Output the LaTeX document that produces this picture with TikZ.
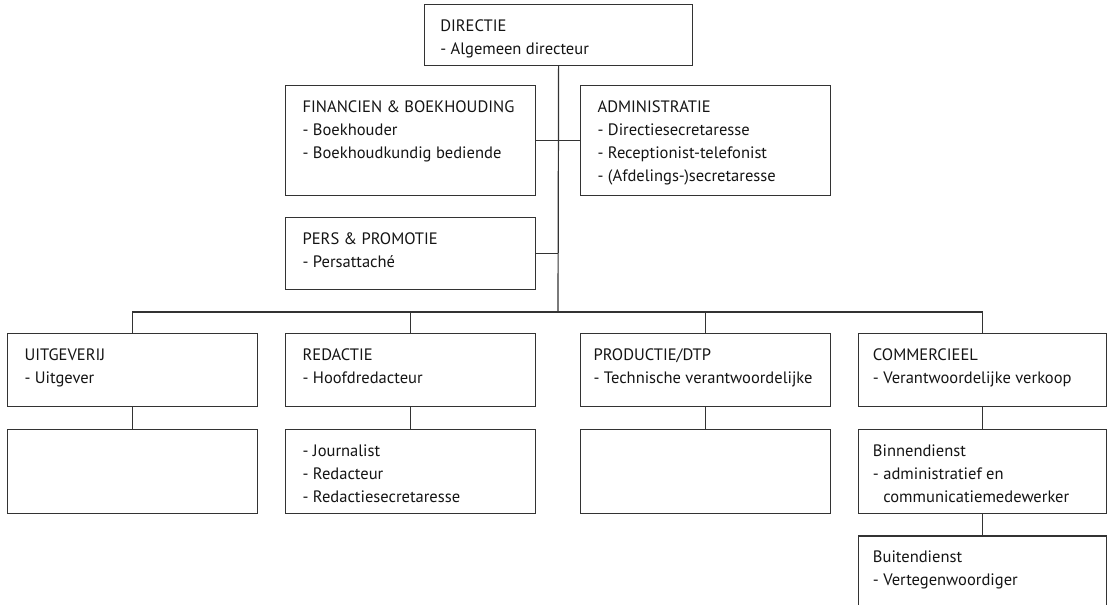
\documentclass[tikz,border=0pt]{standalone}
\usepackage{fontspec}
\setmainfont{PT Sans}
\usetikzlibrary{positioning}
\tikzset{
  unit/.style={draw=black!80, line width=0.9pt, rectangle, anchor=north west,
    minimum width=187.5pt, inner sep=0pt},
  unittext/.style={anchor=north west, align=left, inner sep=0pt, text=black!92,
    font=\fontsize{12.4}{17.25}\selectfont},
  link/.style={draw=black!80, line width=0.9pt},
  node distance=16.5pt
}

\begin{document}
\begin{tikzpicture}[x=0.75pt, y=-0.75pt]
\useasboundingbox (0,0) rectangle (1107,605);
\clip (0,0) rectangle (1107,605);

% directie en staf
\node[unit, minimum width=201pt, minimum height=45.75pt] (dir) at (424,4) {};
\node[unit, minimum height=82.5pt] (fin) at (285,85) {};
\node[unit, minimum height=82.5pt] (adm) at (580,85) {};
\node[unit, minimum height=54pt] (pers) at (285,217) {};
\coordinate (bus) at (558,312);

% afdelingen
\node[unit, minimum height=54.75pt] (uitg) at (7,333) {};
\node[unit, minimum height=54.75pt] (red) at (285,333) {};
\node[unit, minimum height=54.75pt] (prod) at (580,333) {};
\node[unit, minimum width=186pt, minimum height=54.75pt] (comm) at (858,333) {};
\node[unit, minimum height=63pt, below=of uitg] (uitg2) {};
\node[unit, minimum height=63pt, below=of red] (red2) {};
\node[unit, minimum height=63pt, below=of prod] (prod2) {};
\node[unit, minimum width=186pt, minimum height=63pt, below=of comm] (binnen) {};
\node[unit, minimum width=186pt, minimum height=55pt, below=15.75pt of binnen] (buiten) {};

% teksten
\node[unittext] (dir-t) at ([shift={(12pt,-11.5pt)}]dir.north west) {DIRECTIE\\- Algemeen directeur};
\node[unittext] (fin-t) at ([shift={(13pt,-11.5pt)}]fin.north west) {FINANCIEN \& BOEKHOUDING\\- Boekhouder\\- Boekhoudkundig bediende};
\node[unittext] (adm-t) at ([shift={(13pt,-11.5pt)}]adm.north west) {ADMINISTRATIE\\- Directiesecretaresse\\- Receptionist-telefonist\\- (Afdelings-)secretaresse};
\node[unittext] (pers-t) at ([shift={(13pt,-11.5pt)}]pers.north west) {PERS \& PROMOTIE\\- Persattach\'e};
\node[unittext] (uitg-t) at ([shift={(13pt,-11.5pt)}]uitg.north west) {UITGEVERIJ\\- Uitgever};
\node[unittext] (red-t) at ([shift={(13pt,-11.5pt)}]red.north west) {REDACTIE\\- Hoofdredacteur};
\node[unittext] (prod-t) at ([shift={(10pt,-11.5pt)}]prod.north west) {PRODUCTIE/DTP\\- Technische verantwoordelijke};
\node[unittext] (comm-t) at ([shift={(11pt,-11.5pt)}]comm.north west) {COMMERCIEEL\\- Verantwoordelijke verkoop};
\node[unittext] (red2-t) at ([shift={(13pt,-11.5pt)}]red2.north west) {- Journalist\\- Redacteur\\- Redactiesecretaresse};
\node[unittext] (binnen-t) at ([shift={(11pt,-11.5pt)}]binnen.north west) {Binnendienst\\- administratief en\\\hphantom{- }communicatiemedewerker};
\node[unittext] (buiten-t) at ([shift={(11pt,-11.5pt)}]buiten.north west) {Buitendienst\\- Vertegenwoordiger};

% lijnen
\draw[link] (dir.south) -- (bus);
\draw[link] (fin.east) -- (adm.west);
\draw[link] (pers.east) -- (pers.east -| bus);
\foreach \n in {uitg,red,prod,comm}
  \draw[link] (\n.north) |- (bus);
\draw[link] (uitg.south) -- (uitg2.north);
\draw[link] (red.south) -- (red2.north);
\draw[link] (prod.south) -- (prod2.north);
\draw[link] (comm.south) -- (binnen.north);
\draw[link] (binnen.south) -- (buiten.north);
\end{tikzpicture}
\end{document}
